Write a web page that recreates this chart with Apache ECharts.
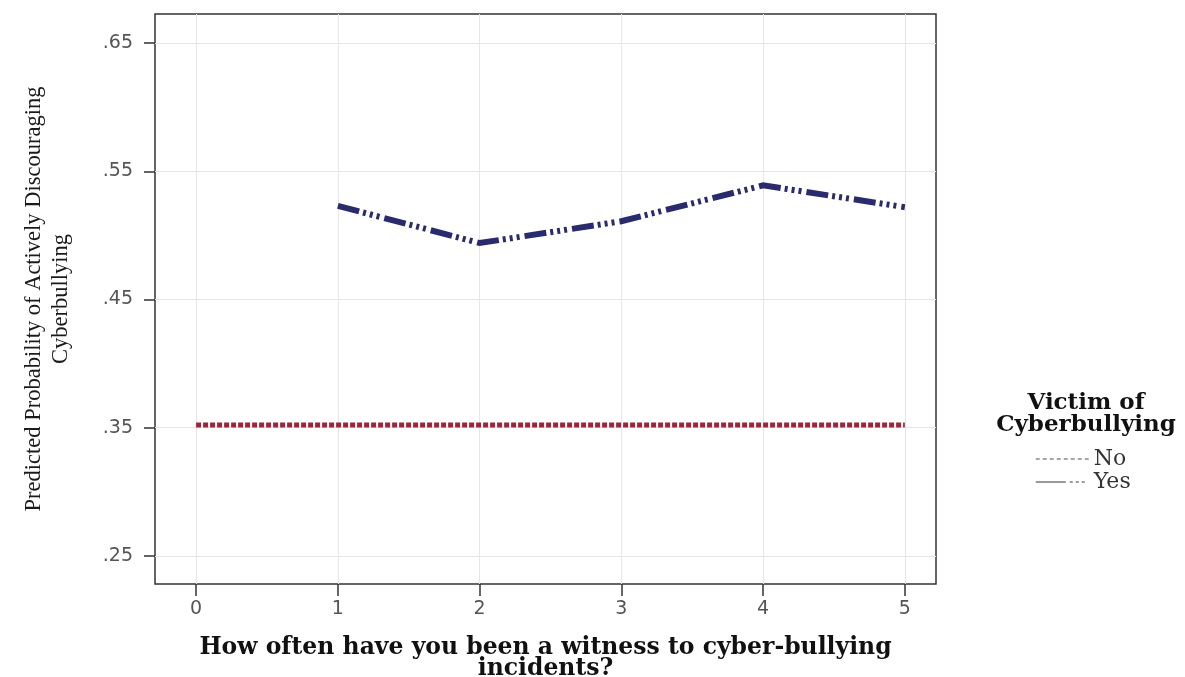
<!DOCTYPE html>
<html>
<head>
<meta charset="utf-8">
<script src="https://cdn.jsdelivr.net/npm/echarts@6/dist/echarts.min.js"></script>
<style>
html,body{margin:0;padding:0;background:#fff;}
#chart{width:1185px;height:677px;}
</style>
</head>
<body>
<div id="chart"></div>
<script>
// ---- data ----
var xTicks = [0, 1, 2, 3, 4, 5];
var yTicks = [0.25, 0.35, 0.45, 0.55, 0.65];
var noX = [0, 1, 2, 3, 4, 5];
var noValues = [0.352, 0.352, 0.352, 0.352, 0.352, 0.352];
var yesX = [1, 2, 3, 4, 5];
var yesValues = [0.523, 0.494, 0.511, 0.539, 0.522];
var seriesNames = ['No', 'Yes'];
var xTitle = 'How often have you been a witness to cyber-bullying\nincidents?';
var yTitle = 'Predicted Probability of Actively Discouraging\nCyberbullying';
var legendTitle = 'Victim of\nCyberbullying';

function pairs(xs, ys) { return xs.map(function (x, i) { return [x, ys[i]]; }); }

var chart = echarts.init(document.getElementById('chart'), null, { renderer: 'canvas' });
chart.setOption({
  backgroundColor: '#ffffff',
  animation: false,
  grid: {
    left: 155, right: 249, top: 14, bottom: 93,
    outerBoundsMode: 'none', containLabel: false,
    show: true, borderColor: '#333', borderWidth: 1.5, backgroundColor: '#fff'
  },
  xAxis: {
    type: 'value', min: -0.29, max: 5.22,
    axisLine: { show: false, onZero: false },
    axisTick: { show: true, customValues: xTicks, length: 12, inside: false, lineStyle: { color: '#333', width: 1.5 } },
    axisLabel: { customValues: xTicks, margin: 16, color: '#555', fontFamily: 'DejaVu Sans', fontSize: 19 },
    splitLine: { show: true, lineStyle: { color: '#e6e6e6', width: 1 } },
    name: xTitle, nameLocation: 'middle', nameGap: 53,
    nameTextStyle: { fontFamily: 'DejaVu Serif', fontWeight: 'bold', fontSize: 23.5, color: '#111', lineHeight: 21 }
  },
  yAxis: {
    type: 'value', min: 0.228, max: 0.6727,
    axisLine: { show: false, onZero: false },
    axisTick: { show: true, customValues: yTicks, length: 11, inside: false, lineStyle: { color: '#333', width: 1.5 } },
    axisLabel: {
      customValues: yTicks, margin: 22, color: '#555', fontFamily: 'DejaVu Sans', fontSize: 19,
      formatter: function (v) { return v.toFixed(2).replace(/^0/, ''); }
    },
    splitLine: { show: true, lineStyle: { color: '#e6e6e6', width: 1 } },
    name: yTitle, nameLocation: 'middle', nameGap: 80, nameRotate: 90,
    nameTextStyle: { fontFamily: 'Liberation Serif', fontSize: 22.5, color: '#1a1a1a', lineHeight: 27 }
  },
  legend: {
    orient: 'vertical', left: 1030, top: 443,
    itemWidth: 53, itemHeight: 12, itemGap: 1,
    textStyle: { fontFamily: 'DejaVu Serif', fontSize: 22, color: '#333' },
    data: [
      { name: seriesNames[0], itemStyle: { opacity: 0 }, lineStyle: { color: '#8a8a8a', width: 1.5, type: [4, 3] } },
      { name: seriesNames[1], itemStyle: { opacity: 0 }, lineStyle: { color: '#7a7a7a', width: 1.5, type: [30, 4, 3, 3, 3, 3, 3, 4] } }
    ]
  },
  graphic: [{
    type: 'text', x: 1086, y: 392,
    style: {
      text: legendTitle, align: 'center', verticalAlign: 'top',
      font: 'bold 23px "DejaVu Serif"', fill: '#111', lineHeight: 22
    }
  }],
  series: [
    {
      name: seriesNames[0], type: 'line', data: pairs(noX, noValues),
      symbol: 'none', z: 3, color: '#a0233c',
      lineStyle: { color: '#a0233c', width: 5, type: [5, 2], cap: 'butt' }
    },
    {
      name: seriesNames[1], type: 'line', data: pairs(yesX, yesValues),
      symbol: 'none', z: 4, color: '#2a2b6c',
      lineStyle: { color: '#2a2b6c', width: 6, type: [22, 4, 3, 4, 3, 4, 3, 5], cap: 'butt', join: 'miter' }
    }
  ]
});
</script>
</body>
</html>
